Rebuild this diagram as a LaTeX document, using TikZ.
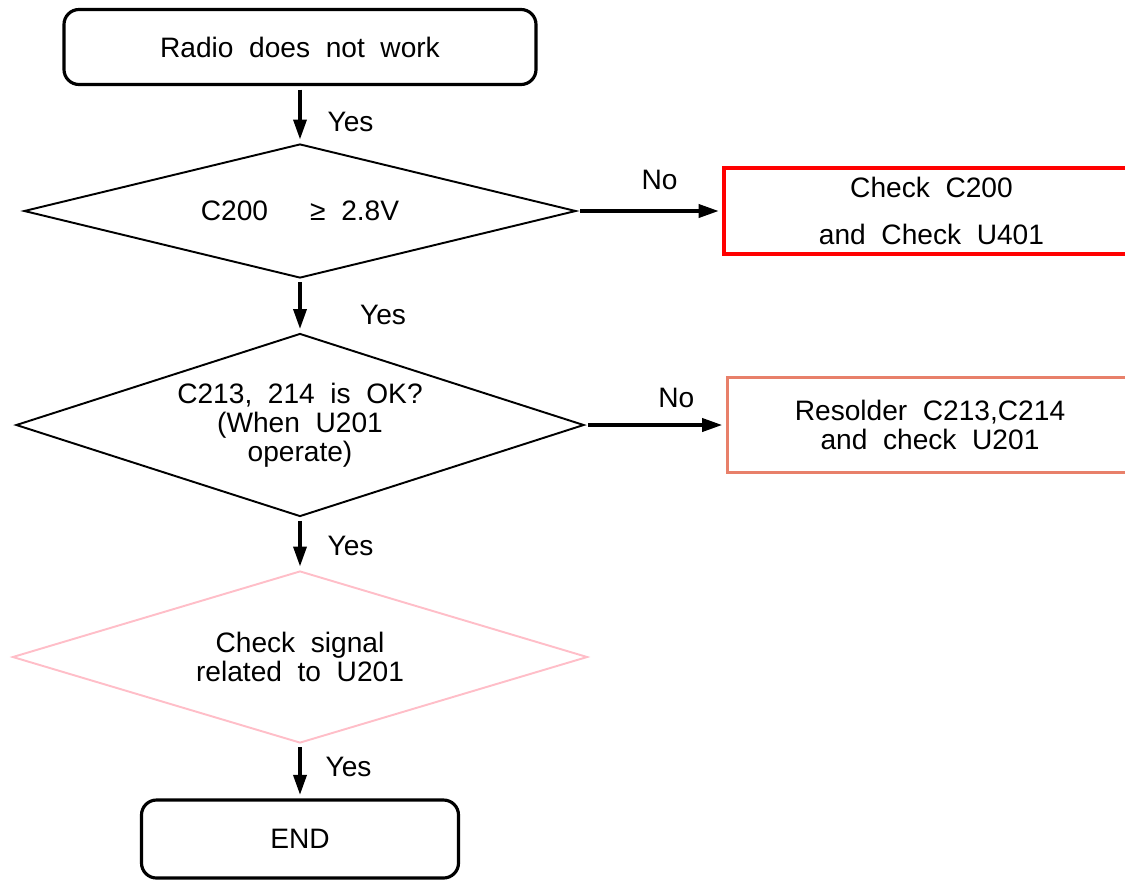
\documentclass[tikz,border=0pt]{standalone}
\usepackage{fontspec}
\setmainfont{Liberation Sans}[WordSpace=2]
\usetikzlibrary{arrows.meta,positioning,shapes.geometric}
\definecolor{salmonline}{RGB}{232,128,106}
\definecolor{pinkline}{RGB}{255,190,200}

\begin{document}
\begin{tikzpicture}[>={Triangle[length=4mm,width=2.6mm]},
  font=\fontsize{16}{16.5}\selectfont,
  term/.style={draw,line width=1.8pt,rounded corners=0.3cm,minimum height=1.5cm},
  decide/.style={draw,diamond,line width=1.1pt,aspect=3,inner sep=0pt,align=center},
  action/.style={draw,line width=2pt,minimum width=8.3cm,align=center},
  flow/.style={->,line width=2pt,shorten <=2pt,shorten >=2pt}]
\useasboundingbox (0,0) rectangle (22.5,-17.6);
% main column
\node[term,minimum width=9.44cm] (start) at (6,-0.94) {Radio does not work};
\node[decide,minimum width=11.04cm,minimum height=2.68cm] (c200) at (6,-4.22) {C200\hspace{24pt}≥ 2.8V};
\node[decide,minimum width=11.36cm,minimum height=3.66cm] (c213) at (6,-8.5) {C213, 214 is OK?\\(When U201\\operate)};
\node[decide,draw=pinkline,minimum width=11.5cm,minimum height=3.44cm] (sig) at (6,-13.14) {Check signal\\related to U201};
\node[term,minimum width=6.34cm,minimum height=1.56cm] (end) at (6,-16.78) {END};
% side actions
\node[action,draw=red,minimum height=1.72cm] (chk1) at (18.63,-4.22) {Check C200\\[10pt]and Check U401};
\node[action,draw=salmonline,minimum width=8.1cm,minimum height=1.9cm] (chk2) at (18.6,-8.5) {Resolder C213,C214\\and check U201};
% connectors
\draw[flow] (start) -- node[right=0.4cm,yshift=-0.14cm] {Yes} (c200);
\draw[flow] (c200) -- node[right=1.05cm,yshift=-0.19cm] {Yes} (c213);
\draw[flow] (c213) -- node[right=0.4cm,yshift=-0.05cm] {Yes} (sig);
\draw[flow] (sig) -- node[right=0.36cm,yshift=0.09cm] {Yes} (end);
\draw[flow] (c200.east) -- node[above=0.27cm,xshift=0.2cm] {No} (chk1.west);
\draw[flow] (c213.east) -- node[above=0.2cm,xshift=0.42cm] {No} (chk2.west);
\end{tikzpicture}
\end{document}
